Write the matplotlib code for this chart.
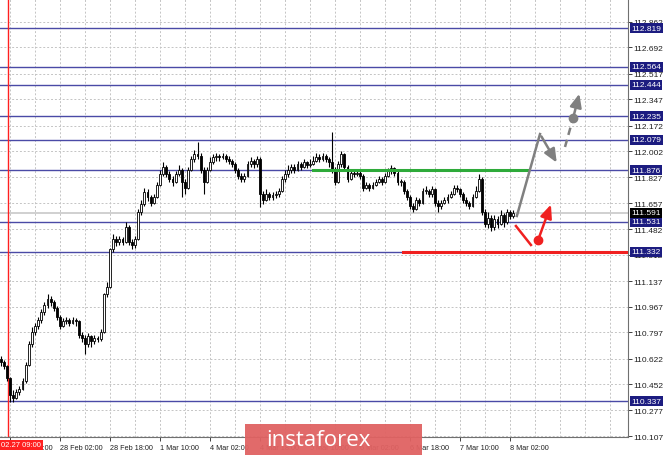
import numpy as np
import matplotlib.pyplot as plt
import matplotlib.transforms as mtransforms
from matplotlib.patches import Rectangle

# H1 candles, bar index 0 = 27 Feb 10:00
first_open = 110.62
closes = [
    110.60, 110.57, 110.49,
    110.38, 110.36, 110.40, 110.42, 110.47, 110.58, 110.72, 110.80, 110.84, 110.88,
    110.93, 110.98, 111.02, 111.00, 110.96, 110.90, 110.84, 110.87, 110.88, 110.86,
    110.88, 110.87, 110.78, 110.76, 110.72, 110.77, 110.74, 110.76, 110.75, 110.80,
    111.05, 111.10, 111.35, 111.42, 111.40, 111.42, 111.40, 111.50, 111.40, 111.38,
    111.42, 111.60, 111.65, 111.73, 111.70, 111.66, 111.70, 111.78, 111.85, 111.90,
    111.85, 111.82, 111.80, 111.85, 111.88, 111.80, 111.76, 111.88, 111.95, 111.98,
    111.97, 111.88, 111.80, 111.88, 111.93, 111.96, 111.97, 111.96, 111.97, 111.95,
    111.94, 111.92, 111.88, 111.84, 111.82, 111.84, 111.92, 111.94, 111.92, 111.95,
    111.72, 111.68, 111.72, 111.70, 111.71, 111.72, 111.74, 111.82, 111.85, 111.88,
    111.90, 111.88, 111.92, 111.90, 111.93, 111.91, 111.92, 111.94, 111.96, 111.95,
    111.97, 111.95, 111.93, 111.88, 111.80, 111.92, 111.98, 111.90, 111.82, 111.86,
    111.85, 111.86, 111.84, 111.76, 111.78, 111.76, 111.78, 111.80, 111.82, 111.80,
    111.84, 111.87, 111.89, 111.86, 111.80, 111.80, 111.74, 111.70, 111.64, 111.62,
    111.68, 111.66, 111.74, 111.74, 111.72, 111.75, 111.66, 111.64, 111.66, 111.68,
    111.70, 111.72, 111.76, 111.75, 111.72, 111.68, 111.66, 111.64, 111.70, 111.74,
    111.82, 111.60, 111.52, 111.56, 111.50, 111.55, 111.52, 111.58, 111.53, 111.60,
    111.57, 111.59]
highs = [
    110.64, 110.61, 110.58,
    110.50, 110.41, 110.42, 110.44, 110.49, 110.60, 110.74, 110.83, 110.86, 110.90,
    110.95, 111.00, 111.05, 111.04, 111.01, 110.97, 110.91, 110.89, 110.90, 110.89,
    110.90, 110.89, 110.88, 110.80, 110.78, 110.79, 110.78, 110.78, 110.77, 110.82,
    111.06, 111.13, 111.36, 111.45, 111.44, 111.44, 111.43, 111.53, 111.51, 111.42,
    111.44, 111.62, 111.68, 111.76, 111.75, 111.71, 111.72, 111.80, 111.88, 111.93,
    111.91, 111.87, 111.84, 111.87, 111.91, 111.89, 111.82, 111.90, 111.97, 112.01,
    112.06, 111.99, 111.90, 111.90, 111.96, 111.98, 111.99, 111.98, 111.99, 111.98,
    111.97, 111.95, 111.93, 111.89, 111.86, 111.86, 111.94, 111.96, 111.95, 111.97,
    111.96, 111.74, 111.75, 111.73, 111.73, 111.74, 111.76, 111.84, 111.88, 111.91,
    111.92, 111.92, 111.94, 111.93, 111.95, 111.94, 111.95, 111.97, 111.99, 111.98,
    111.99, 111.98, 111.96, 112.13, 111.90, 111.94, 112.00, 111.99, 111.91, 111.88,
    111.88, 111.88, 111.87, 111.85, 111.80, 111.79, 111.80, 111.82, 111.84, 111.83,
    111.86, 111.89, 111.91, 111.90, 111.87, 111.82, 111.81, 111.75, 111.71, 111.66,
    111.70, 111.69, 111.76, 111.77, 111.75, 111.77, 111.76, 111.68, 111.68, 111.70,
    111.72, 111.74, 111.78, 111.78, 111.76, 111.73, 111.70, 111.67, 111.72, 111.77,
    111.85, 111.83, 111.62, 111.60, 111.58, 111.58, 111.57, 111.61, 111.59, 111.62,
    111.61, 111.61]
lows = [
    110.57, 110.55, 110.47,
    110.33, 110.33, 110.35, 110.38, 110.41, 110.46, 110.57, 110.70, 110.78, 110.82,
    110.86, 110.91, 110.96, 110.97, 110.94, 110.88, 110.82, 110.83, 110.85, 110.84,
    110.85, 110.84, 110.76, 110.73, 110.65, 110.70, 110.70, 110.72, 110.73, 110.74,
    110.79, 111.03, 111.09, 111.33, 111.37, 111.38, 111.38, 111.39, 111.38, 111.35,
    111.36, 111.41, 111.58, 111.64, 111.67, 111.64, 111.65, 111.69, 111.77, 111.84,
    111.83, 111.80, 111.77, 111.79, 111.84, 111.70, 111.72, 111.75, 111.87, 111.93,
    111.95, 111.86, 111.72, 111.79, 111.87, 111.92, 111.94, 111.94, 111.95, 111.93,
    111.92, 111.90, 111.86, 111.82, 111.80, 111.80, 111.83, 111.90, 111.89, 111.90,
    111.63, 111.65, 111.67, 111.68, 111.68, 111.69, 111.70, 111.73, 111.80, 111.83,
    111.86, 111.86, 111.87, 111.88, 111.89, 111.89, 111.90, 111.91, 111.93, 111.93,
    111.94, 111.93, 111.90, 111.86, 111.78, 111.79, 111.90, 111.88, 111.80, 111.81,
    111.83, 111.84, 111.82, 111.74, 111.75, 111.74, 111.75, 111.77, 111.79, 111.78,
    111.79, 111.83, 111.85, 111.84, 111.78, 111.77, 111.72, 111.68, 111.62, 111.60,
    111.61, 111.64, 111.65, 111.72, 111.70, 111.70, 111.64, 111.60, 111.62, 111.65,
    111.66, 111.69, 111.71, 111.73, 111.70, 111.66, 111.64, 111.62, 111.63, 111.69,
    111.73, 111.58, 111.50, 111.49, 111.47, 111.48, 111.49, 111.51, 111.50, 111.52,
    111.55, 111.56]
first_bar = -3

price_ticks = [112.862, 112.692, 112.517, 112.347, 112.172, 112.002, 111.827, 111.657,
               111.482, 111.312, 111.137, 110.967, 110.797, 110.622, 110.452, 110.277, 110.107]
levels = [112.819, 112.564, 112.444, 112.235, 112.079, 111.876, 111.531, 111.332, 110.337]
current_price = 111.591

time_ticks = [0, 16, 32, 48, 64, 80, 96, 112, 128, 144, 160]
time_labels = ['27 Feb 10:00', '28 Feb 02:00', '28 Feb 18:00', '1 Mar 10:00', '4 Mar 02:00',
               '4 Mar 18:00', '5 Mar 10:00', '6 Mar 02:00', '6 Mar 18:00', '7 Mar 10:00', '8 Mar 02:00']
marker_bar = -0.6
marker_label = '02.27 09:00'

# forecast drawing (bar index, price)
green_level = 111.876
green_span = [97, 165.4]
red_level = 111.332
red_start = 125.8
gray_up_x = [162.2, 169.6]
gray_up_y = [111.571, 112.116]
gray_back_end = [175.4, 111.910]
gray_dash_x = [177.6, 180.2]
gray_dash_y = [112.030, 112.223]
gray_target = [182.4, 112.402]
red_down_x = [161.9, 166.7]
red_down_y = [111.504, 111.378]
red_dot = [169.0, 111.411]
red_target = [173.4, 111.664]

W, H = 665, 456
fig = plt.figure(figsize=(W / 100, H / 100), dpi=100)
ax = fig.add_axes([0.0, 18 / H, 628 / W, 438 / H])
ax.set_xlim(-3.2, 197.76)
ax.set_ylim(110.1004, 113.0145)

# grid
for t in price_ticks:
    ax.axhline(t, color='#c4c4c4', lw=0.7, ls=(0, (2, 2)), zorder=0)
for g in np.arange(0, 200, 8):
    ax.axvline(g, color='#c4c4c4', lw=0.7, ls=(0, (2, 2)), zorder=0)

# levels
ax.axhline(current_price, color='#c8c8c8', lw=1.2, zorder=1)
for lv in levels:
    ax.axhline(lv, color='#4a4aa6', lw=1.0, zorder=1)
ax.axvline(marker_bar, color='#ff2020', lw=1.0, zorder=1)

# candles
idx = np.arange(first_bar, first_bar + len(closes))
c = np.array(closes)
o = np.r_[first_open, c[:-1]]
hi = np.array(highs)
lo = np.array(lows)
ax.vlines(idx, lo, hi, color='black', lw=0.8, zorder=3)
up = c >= o
body = np.maximum(np.abs(c - o), 0.006)
ax.bar(idx[up], body[up], bottom=o[up], width=0.62, color='white',
       edgecolor='black', lw=0.6, zorder=4)
ax.bar(idx[~up], body[~up], bottom=c[~up], width=0.62, color='black',
       edgecolor='black', lw=0.6, zorder=4)

# forecast lines
arrow = dict(arrowstyle='-|>,head_length=0.8,head_width=0.35', lw=1.8)
ax.plot(green_span, [green_level, green_level], color='#2eaa3a', lw=2.2, zorder=5)
ax.plot([red_start, 197.76], [red_level, red_level], color='#f02020', lw=2.2, zorder=5)
ax.plot(gray_up_x, gray_up_y, color='#808080', lw=1.8, zorder=6)
ax.annotate('', xy=gray_back_end, xytext=(gray_up_x[1], gray_up_y[1]),
            arrowprops=dict(arrow, color='#808080'), zorder=6)
ax.plot(gray_dash_x, gray_dash_y, color='#808080', lw=1.8, ls=(0, (3, 2)), zorder=6)
ax.plot(gray_dash_x[1], gray_dash_y[1], 'o', color='#808080', ms=6, zorder=7)
ax.annotate('', xy=gray_target, xytext=(gray_dash_x[1], gray_dash_y[1]),
            arrowprops=dict(arrow, color='#808080'), zorder=6)
ax.plot(red_down_x, red_down_y, color='#f02020', lw=1.8, zorder=6)
ax.plot(*red_dot, 'o', color='#f02020', ms=6, zorder=7)
ax.annotate('', xy=red_target, xytext=red_dot,
            arrowprops=dict(arrow, color='#f02020'), zorder=6)

# axes look
for s in ['top', 'left']:
    ax.spines[s].set_visible(False)
ax.spines['right'].set_color('#707070')
ax.spines['bottom'].set_color('#707070')
ax.yaxis.tick_right()
ax.set_yticks(price_ticks)
ax.set_yticklabels([f'{t:.3f}' for t in price_ticks], fontsize=6, family='Liberation Sans')
ax.tick_params(axis='y', length=3, width=0.6, pad=1, colors='#202020')
ax.set_xticks(time_ticks)
ax.set_xticklabels(time_labels, fontsize=5.2, family='Liberation Sans', ha='left')
ax.tick_params(axis='x', length=3, width=0.6, pad=2, colors='#202020')

# price boxes on the right scale
trans = mtransforms.blended_transform_factory(ax.transAxes, ax.transData)
for lv in levels:
    ax.text(1.005, lv, f'{lv:.3f}', transform=trans, fontsize=6, family='Liberation Sans',
            color='white', va='center', ha='left', zorder=10, clip_on=False,
            bbox=dict(boxstyle='square,pad=0.18', fc='#1c1c80', ec='none'))
ax.text(1.005, current_price, f'{current_price:.3f}', transform=trans, fontsize=6,
        family='Liberation Sans', color='white', va='center', ha='left', zorder=10, clip_on=False,
        bbox=dict(boxstyle='square,pad=0.18', fc='black', ec='none'))

# time marker box
fig.text(1 / W, 10 / H, marker_label, fontsize=5.5, family='Liberation Sans', color='white',
         va='center', ha='left', zorder=11,
         bbox=dict(boxstyle='square,pad=0.25', fc='#ff2020', ec='none'))

# watermark
fig.patches.append(Rectangle((245 / W, 0), 177 / W, 31 / H, transform=fig.transFigure,
                             fc='#e06262', ec='none', alpha=0.95, zorder=20))
fig.text(318 / W, 15 / H, 'instaforex', fontsize=16, family='Open Sans', color='white',
         ha='center', va='center', zorder=21)

fig.savefig('out.png', dpi=100)
